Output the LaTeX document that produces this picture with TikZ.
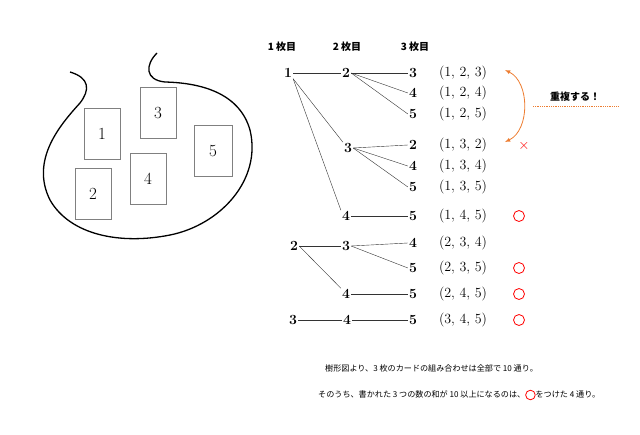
\documentclass[tikz,border=0pt]{standalone}
\usepackage{fontspec}
\newfontfamily\jp{Noto Sans CJK JP}
\definecolor{org}{RGB}{237,125,49}
\begin{document}
\begin{tikzpicture}[x=1pt,y=-1pt,
 num/.style={font=\fontsize{14}{14}\selectfont\bfseries,inner sep=1pt},
 tri/.style={font=\fontsize{14}{14}\selectfont,inner sep=1pt},
 hd/.style={font=\jp\fontsize{10}{11}\selectfont\bfseries},
 body/.style={font=\jp\fontsize{8.1}{9}\selectfont,anchor=west,inner sep=0pt},
 card/.style={draw=gray,minimum width=36pt,minimum height=51pt,font=\fontsize{17}{17}\selectfont},
 br/.style={thin,black!80},
 ok/.style={draw=red,thick,circle,minimum size=11pt,inner sep=0pt}]
\useasboundingbox (0,0) rectangle (640,434);
% bag
\draw[line width=1.3pt] (70,72) .. controls (90,78) and (90,90) .. (80,103)
 .. controls (60,125) and (30,160) .. (50,200)
 .. controls (70,235) and (120,245) .. (170,235)
 .. controls (220,225) and (262,180) .. (250,130)
 .. controls (240,95) and (205,83) .. (165,82)
 .. controls (145,80) and (145,65) .. (157,53);
\node[card] (c1) at (102,134) {1};
\node[card] (c3) at (158,113) {3};
\node[card,minimum width=38pt] (c5) at (213,151) {5};
\node[card] (c2) at (93,194) {2};
\node[card] (c4) at (148,179) {4};
% headers
\node[hd] (h1) at (282,47) {1 枚目};
\node[hd] (h2) at (347,47) {2 枚目};
\node[hd] (h3) at (415,47) {3 枚目};
% level 1
\node[num] (a1) at (288,73) {1};
\node[num] (a2) at (294,246) {2};
\node[num] (a3) at (293,320) {3};
% level 2
\node[num] (b12) at (346,73) {2};
\node[num] (b13) at (348,148) {3};
\node[num] (b14) at (346,216) {4};
\node[num] (b23) at (346,246) {3};
\node[num] (b24) at (346,294) {4};
\node[num] (b34) at (347,320) {4};
% level 3
\foreach \n/\v/\y/\t in {c123/3/73/{1, 2, 3},c124/4/93/{1, 2, 4},c125/5/114/{1, 2, 5},
 c132/2/145/{1, 3, 2},c134/4/166/{1, 3, 4},c135/5/187/{1, 3, 5},c145/5/216/{1, 4, 5},
 c234/4/243/{2, 3, 4},c235/5/268/{2, 3, 5},c245/5/294/{2, 4, 5},c345/5/320/{3, 4, 5}}{
 \node[num] (\n) at (413,\y) {\v};
 \node[tri] (t\n) at (463,\y) {(\t)};
}
\draw[br] (a1.east) -- (b12.west);
\draw[br] (a1.south east) -- (b13.north west);
\draw[br] (a1.south east) -- (b14.north west);
\draw[br] (a2.east) -- (b23.west);
\draw[br] (a2.east) -- (b24.north west);
\draw[br] (a3.east) -- (b34.west);
\foreach \p/\c in {b12/c123,b12/c124,b12/c125,b13/c132,b13/c134,b13/c135,b14/c145,b23/c234,b23/c235,b24/c245,b34/c345}
 \draw[br] (\p.east) -- (\c.west);
% marks
\foreach \n/\y in {c145/216,c235/268,c245/294,c345/320}{
 \node[ok] (o\n) at (519,\y) {};
}
\node[text=red,font=\fontsize{15}{15}\selectfont] (x) at (524,146) {$\times$};
\coordinate (ar1) at (505,70);
\coordinate (ar2) at (505,142);
\draw[org,thick,latex-latex] (ar1) .. controls (530,82) and (530,130) .. (ar2);
\node[hd,anchor=base] (dup) at (575,100) {重複する！};
\coordinate (u1) at (533,106);
\coordinate (u2) at (618,106);
\draw[org,densely dotted,thick] (u1) -- (u2);
% bottom text
\node[body] (l1) at (325,368) {樹形図より、3 枚のカードの組み合わせは全部で 10 通り。};
\node[body] (l2) at (318,395) {そのうち、書かれた 3 つの数の和が 10 以上になるのは、\tikz[baseline=-2.9pt]\draw[red,thick] (0,0) circle (4.8pt);をつけた 4 通り。};
\end{tikzpicture}
\end{document}
